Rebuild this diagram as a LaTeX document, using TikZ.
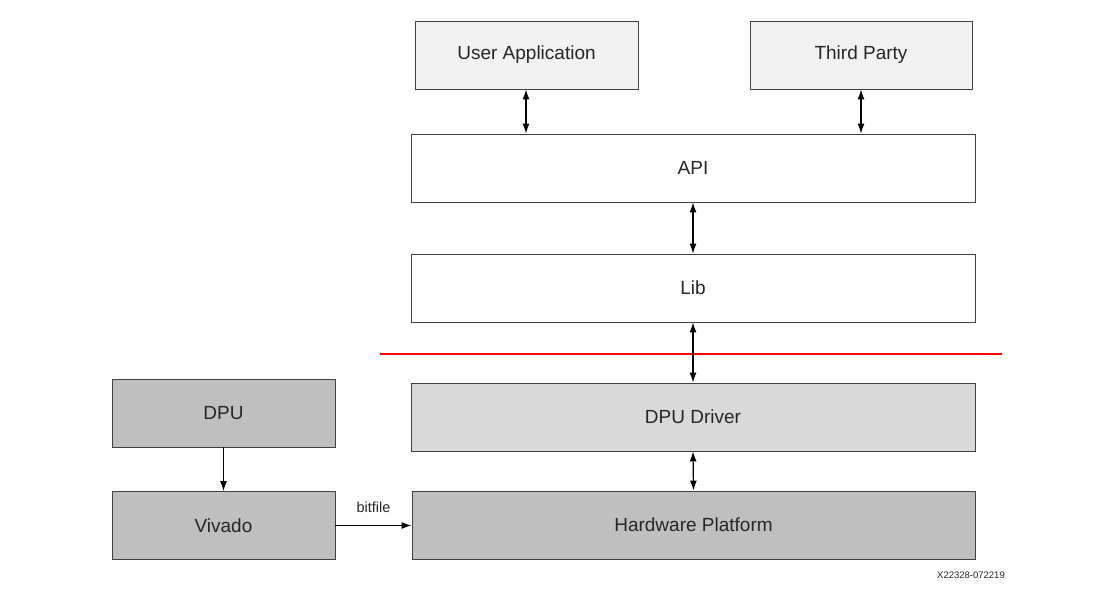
\documentclass[tikz,border=0pt]{standalone}
\usepackage{fontspec}
\setmainfont{Liberation Sans}
\usetikzlibrary{arrows.meta}
\begin{document}
\begin{tikzpicture}[x=1pt,y=-1pt,
  box/.style={draw=black!75,line width=0.9pt,minimum height=68pt,inner sep=0pt,font=\fontsize{19}{22}\selectfont,text=black!85},
  light/.style={box,fill=black!5},
  mid/.style={box,fill=black!15},
  dark/.style={box,fill=black!25},
  conn/.style={line width=1.2pt,-{Latex[length=10pt,width=7pt]}},
  biconn/.style={line width=1.2pt,{Latex[length=10pt,width=7pt]}-{Latex[length=10pt,width=7pt]}}]
\useasboundingbox (0,0) rectangle (1116,594);
\node[light,minimum width=223pt] (ua) at (526.5,55) {User Application};
\node[light,minimum width=222pt] (tp) at (861,55) {Third Party};
\node[box,minimum width=564pt] (api) at (693,168) {API};
\node[box,minimum width=564pt] (lib) at (693,288) {Lib};
\node[mid,minimum width=564pt] (drv) at (693,417) {DPU Driver};
\node[dark,minimum width=563pt] (hw) at (693.5,525) {Hardware Platform};
\node[dark,minimum width=223pt] (dpu) at (223.5,413) {DPU};
\node[dark,minimum width=223pt] (viv) at (223.5,525.5) {Vivado};
\coordinate (rl) at (380,354);
\coordinate (rr) at (1002,354);
\draw[red,line width=1.6pt] (rl) -- (rr);
\draw[biconn] (ua.south -| 526,0) -- (api.north -| 526,0);
\draw[biconn] (tp.south -| 861,0) -- (api.north -| 861,0);
\draw[biconn] (api.south) -- (lib.north);
\draw[biconn] (lib.south) -- (drv.north);
\draw[biconn] (drv.south) -- (hw.north);
\draw[conn] (dpu.south) -- (viv.north);
\draw[conn] (viv.east) -- node[above=9pt,font=\fontsize{14.5}{16}\selectfont,text=black!85] (bf) {bitfile} (hw.west |- viv.east);
\node[font=\fontsize{9.5}{10}\selectfont,text=black!85] (id) at (971,575) {X22328-072219};
\end{tikzpicture}
\end{document}
